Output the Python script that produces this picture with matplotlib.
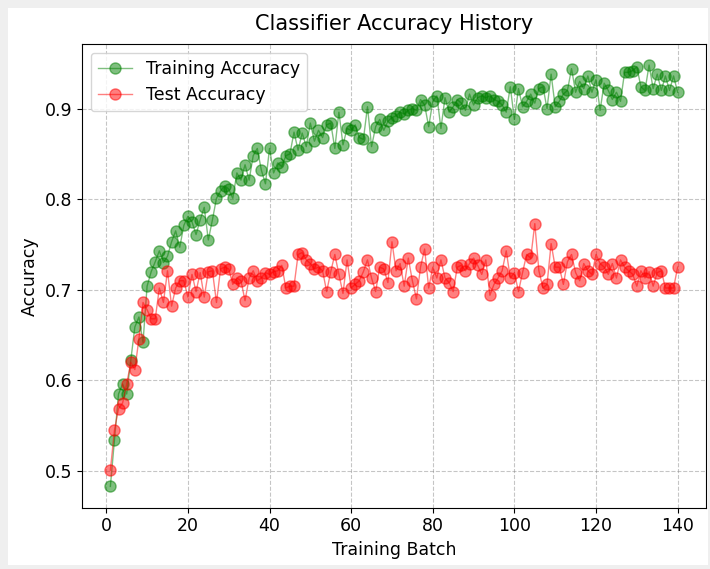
import numpy as np
import matplotlib
matplotlib.use("Agg")
import matplotlib.pyplot as plt
from matplotlib.patches import Rectangle

# accuracy per training batch
batches = np.arange(1, 141)

train_acc = [
    0.483, 0.534, 0.585, 0.596, 0.585, 0.622, 0.659, 0.670, 0.642, 0.704,
    0.720, 0.731, 0.743, 0.730, 0.737, 0.753, 0.765, 0.747, 0.771, 0.781,
    0.775, 0.761, 0.777, 0.791, 0.755, 0.777, 0.801, 0.809, 0.815, 0.811,
    0.801, 0.829, 0.821, 0.838, 0.821, 0.848, 0.856, 0.832, 0.817, 0.856,
    0.829, 0.840, 0.836, 0.848, 0.850, 0.874, 0.854, 0.873, 0.858, 0.884,
    0.864, 0.876, 0.868, 0.882, 0.884, 0.856, 0.896, 0.860, 0.878, 0.876,
    0.882, 0.868, 0.866, 0.902, 0.858, 0.880, 0.888, 0.876, 0.886, 0.890,
    0.892, 0.896, 0.894, 0.898, 0.900, 0.898, 0.910, 0.904, 0.880, 0.908,
    0.914, 0.878, 0.912, 0.896, 0.902, 0.910, 0.906, 0.898, 0.916, 0.904,
    0.912, 0.914, 0.912, 0.914, 0.910, 0.908, 0.904, 0.896, 0.924, 0.888,
    0.922, 0.902, 0.908, 0.916, 0.906, 0.922, 0.924, 0.900, 0.938, 0.902,
    0.908, 0.916, 0.920, 0.944, 0.918, 0.930, 0.922, 0.936, 0.918, 0.932,
    0.898, 0.928, 0.920, 0.910, 0.918, 0.908, 0.940, 0.940, 0.942, 0.946,
    0.924, 0.920, 0.948, 0.922, 0.938, 0.920, 0.936, 0.920, 0.936, 0.918,
]

test_acc = [
    0.501, 0.545, 0.569, 0.575, 0.596, 0.620, 0.612, 0.646, 0.686, 0.678,
    0.668, 0.668, 0.702, 0.686, 0.721, 0.682, 0.702, 0.710, 0.710, 0.692,
    0.717, 0.698, 0.719, 0.692, 0.720, 0.721, 0.686, 0.723, 0.725, 0.723,
    0.706, 0.713, 0.710, 0.688, 0.713, 0.721, 0.710, 0.713, 0.719, 0.717,
    0.720, 0.721, 0.727, 0.702, 0.704, 0.704, 0.739, 0.741, 0.733, 0.729,
    0.723, 0.725, 0.721, 0.698, 0.720, 0.739, 0.717, 0.696, 0.733, 0.702,
    0.706, 0.710, 0.720, 0.733, 0.713, 0.698, 0.725, 0.723, 0.708, 0.753,
    0.721, 0.729, 0.704, 0.735, 0.710, 0.690, 0.725, 0.745, 0.702, 0.725,
    0.713, 0.733, 0.713, 0.708, 0.698, 0.725, 0.727, 0.721, 0.729, 0.735,
    0.727, 0.717, 0.733, 0.694, 0.706, 0.713, 0.721, 0.743, 0.713, 0.719,
    0.698, 0.719, 0.739, 0.735, 0.773, 0.721, 0.702, 0.706, 0.751, 0.725,
    0.725, 0.706, 0.731, 0.739, 0.719, 0.710, 0.729, 0.721, 0.717, 0.739,
    0.729, 0.725, 0.717, 0.729, 0.713, 0.733, 0.725, 0.721, 0.717, 0.704,
    0.721, 0.713, 0.720, 0.704, 0.719, 0.721, 0.702, 0.702, 0.702, 0.725,
]

fig = plt.figure(figsize=(7.1, 5.69), dpi=100, facecolor='#efefef')
# white canvas inside the grey page margin
fig.patches.append(Rectangle((8/710, 4/569), 700/710, 557/569,
                             transform=fig.transFigure, facecolor='white',
                             edgecolor='none', zorder=-1))

ax = fig.add_axes([82/710, 1 - 507.5/569, 624/710, 463.5/569])
ax.plot(batches, train_acc, 'o-', color='green', alpha=0.5,
        markersize=8, linewidth=1, label='Training Accuracy')
ax.plot(batches, test_acc, 'o-', color='red', alpha=0.5,
        markersize=8, linewidth=1, label='Test Accuracy')

ax.set_title('Classifier Accuracy History', fontsize=15, pad=10)
ax.set_xlabel('Training Batch', fontsize=12.5)
ax.set_ylabel('Accuracy', fontsize=12.5)
ax.tick_params(labelsize=12.5)
ax.set_yticks([0.5, 0.6, 0.7, 0.8, 0.9])
ax.grid(True, linestyle='--', color='gray', alpha=0.45)
ax.legend(loc='upper left', fontsize=12.5)

plt.savefig('out.png', dpi=100, facecolor=fig.get_facecolor())
